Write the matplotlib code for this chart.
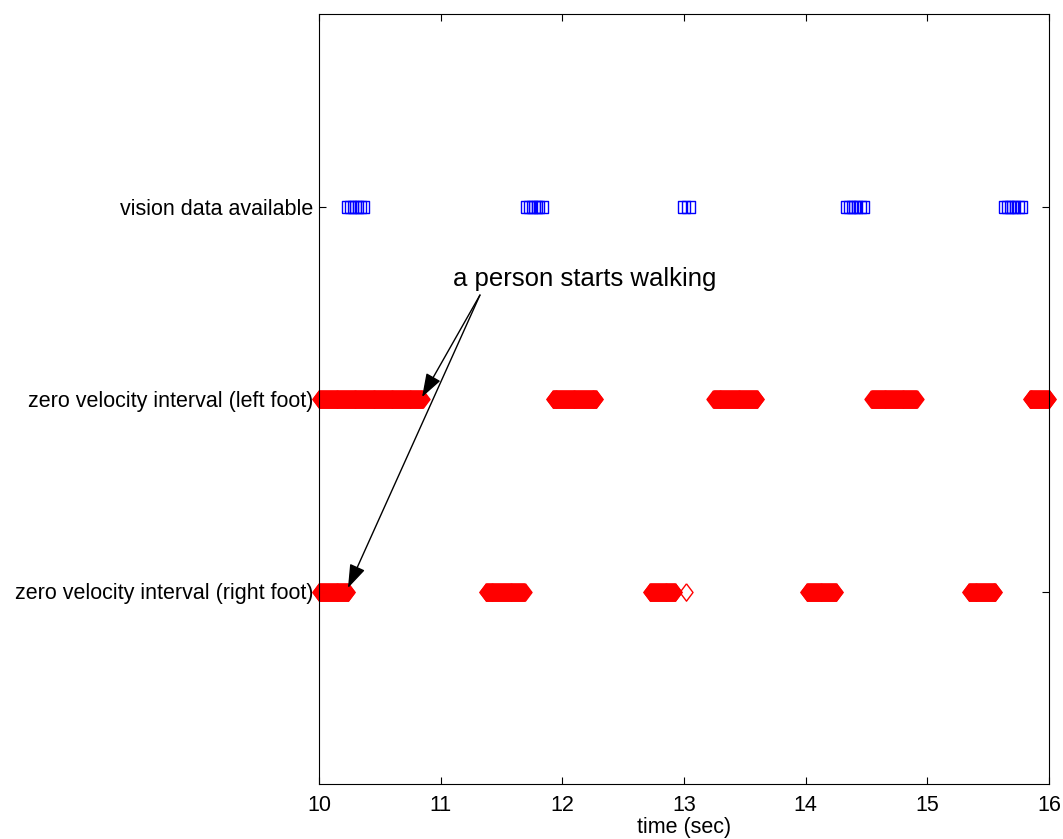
import numpy as np
import matplotlib
matplotlib.use('Agg')
import matplotlib.pyplot as plt

plt.rcParams['font.family'] = ['Liberation Sans', 'DejaVu Sans']

# y positions of the three channels
row_labels = ['zero velocity interval (right foot)',
              'zero velocity interval (left foot)',
              'vision data available']
row_pos = [1, 2, 3]

# vision data timestamps (sec)
vision_times = [10.22, 10.25, 10.27, 10.29, 10.31, 10.33, 10.35, 10.38,
                11.69, 11.72, 11.74, 11.76, 11.78, 11.80, 11.82, 11.85,
                12.98, 13.02, 13.06,
                14.32, 14.35, 14.37, 14.39, 14.41, 14.43, 14.46, 14.49,
                15.62, 15.65, 15.67, 15.69, 15.71, 15.73, 15.76, 15.79]

# zero velocity intervals (start, end) in sec
left_intervals = [(10.00, 10.85), (11.92, 12.28), (13.24, 13.60),
                  (14.54, 14.91), (15.84, 16.00)]
right_intervals = [(10.00, 10.24), (11.37, 11.69), (12.72, 12.93),
                   (13.02, 13.02), (14.01, 14.25), (15.34, 15.56)]
sample_dt = 0.004


def expand(intervals):
    t = []
    for a, b in intervals:
        t.extend(np.arange(a, b + sample_dt / 2, sample_dt))
    return np.array(t)


def show_graphic():
    fig = plt.figure(figsize=(10.63, 8.39), dpi=100)
    ax = fig.add_axes([319 / 1063, 1 - 784 / 839, 730 / 1063, 770 / 839])

    diamond = [(0, 1), (0.75, 0), (0, -1), (-0.75, 0), (0, 1)]
    rect = [(-0.35, -0.5), (0.35, -0.5), (0.35, 0.5), (-0.35, 0.5), (-0.35, -0.5)]
    t_left = expand(left_intervals)
    t_right = expand(right_intervals)
    for t, y in [(t_right, row_pos[0]), (t_left, row_pos[1])]:
        ax.plot(t, np.full(len(t), y), linestyle='none',
                marker=diamond, markersize=12.5, markerfacecolor='none',
                markeredgecolor='red', markeredgewidth=1.0, clip_on=False)
    ax.plot(vision_times, np.full(len(vision_times), row_pos[2]),
            linestyle='none', marker=rect, markersize=8.5,
            markerfacecolor='none', markeredgecolor='blue',
            markeredgewidth=1.0)

    ax.set_xlim(10, 16)
    ax.set_ylim(0, 4)
    ax.set_xticks(range(10, 17))
    ax.set_yticks(row_pos)
    ax.set_yticklabels(row_labels)
    ax.tick_params(direction='in', top=True, right=True, labelsize=15.5,
                   length=5, width=0.8)
    ax.tick_params(axis='x', pad=8)
    ax.tick_params(axis='y', pad=4)
    ax.set_xlabel('time (sec)', fontsize=15.5, labelpad=1)

    arrow = dict(arrowstyle='-|>,head_length=1.45,head_width=0.5',
                 color='black', lw=1, shrinkA=0, shrinkB=0)
    ax.annotate('', xy=(10.847, 2.01), xytext=(11.323, 2.54),
                arrowprops=arrow)
    ax.annotate('', xy=(10.238, 1.018), xytext=(11.323, 2.54),
                arrowprops=arrow)
    ax.text(11.10, 2.625, 'a person starts walking', fontsize=18.5,
            ha='left', va='center')

    fig.savefig('out.png', dpi=100)


if __name__ == '__main__':
    show_graphic()
